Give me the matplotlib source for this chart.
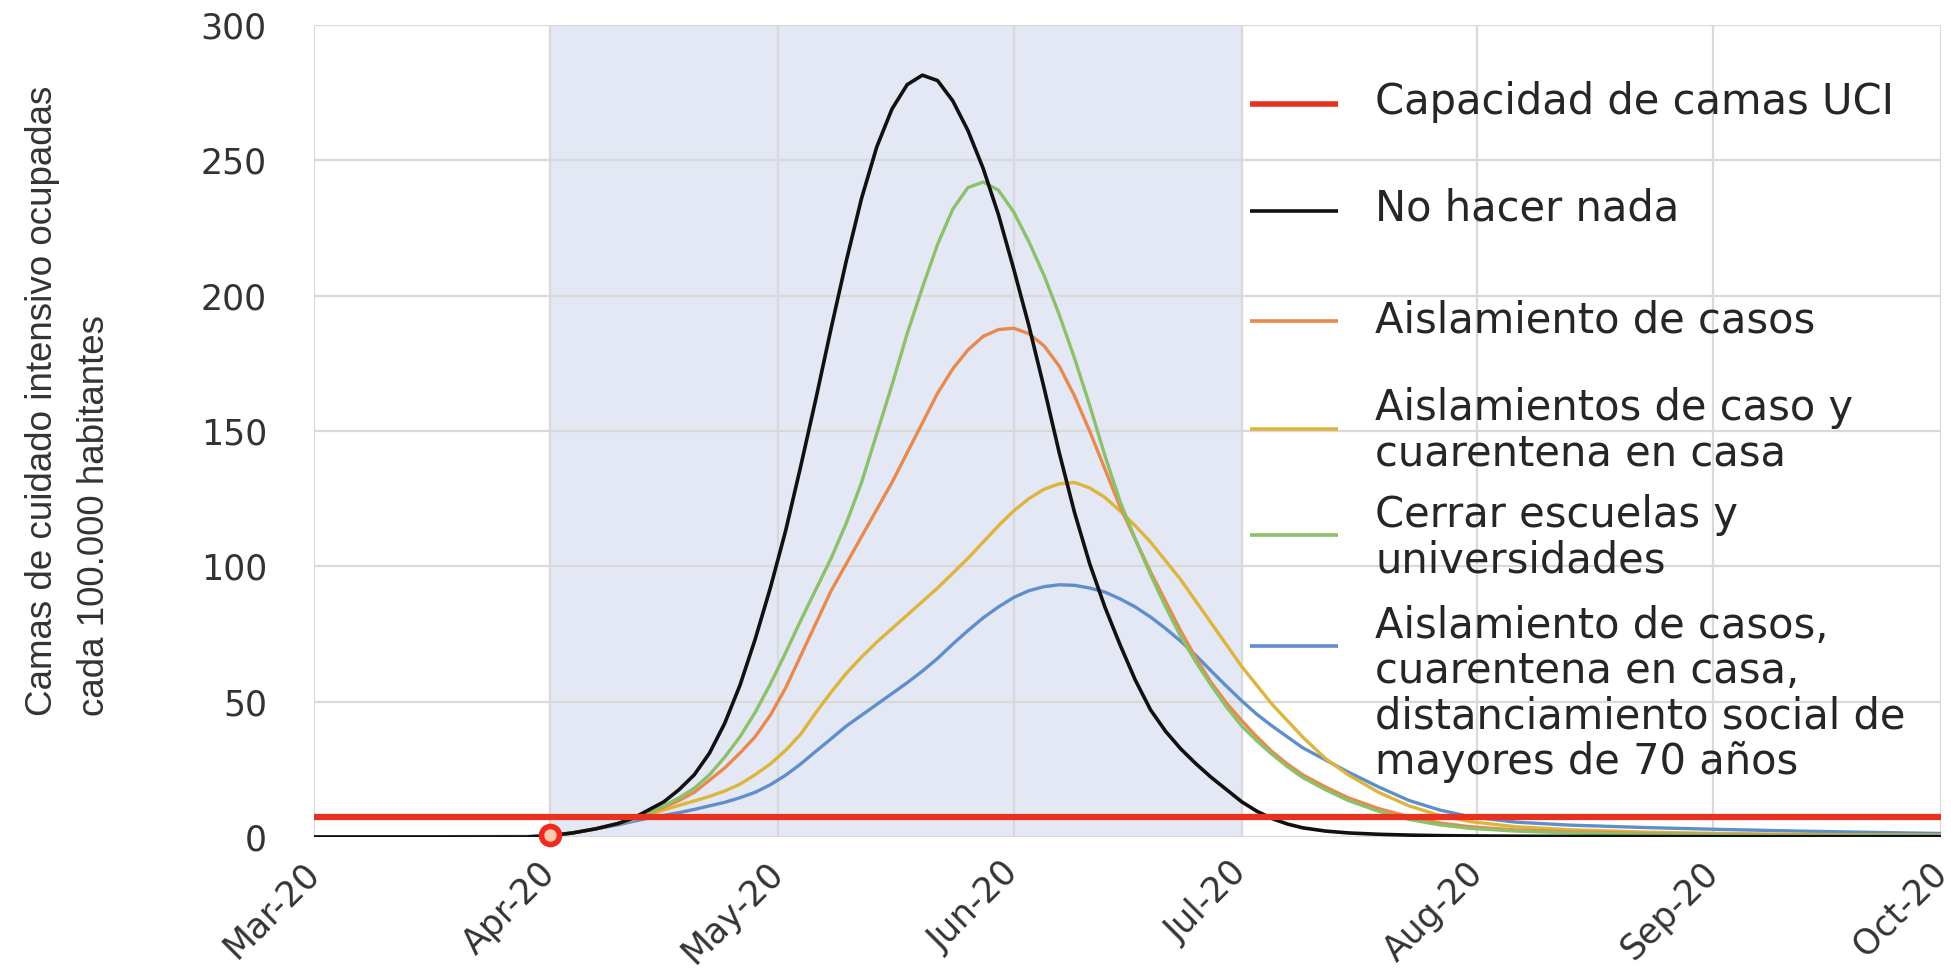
import pandas as pd
import matplotlib
matplotlib.use('Agg')
import matplotlib.pyplot as plt
import matplotlib.dates as mdates

# datos (dias desde el 1 de marzo de 2020)
inicio = pd.Timestamp('2020-03-01')
dias = [0, 28, 31, 34, 37,
        40, 42, 44, 46, 48, 50, 52, 54, 56, 58, 60, 62, 64, 66, 68, 70, 72, 74, 76, 78,
        80, 82, 84, 86, 88, 90, 92, 94, 96, 98, 100, 102, 104, 106, 108, 110, 112, 114,
        116, 118, 120, 122, 124, 126, 128, 130,
        133, 136, 140, 144, 148, 152, 158, 165, 175, 185, 195, 205, 214]

no_hacer_nada = [0, 0, 0.5, 1.5, 3,
                 5, 7, 10, 13, 17.5, 23, 31, 42, 56, 73, 92, 113, 137, 162, 188, 213, 236,
                 255, 269, 278, 281.5, 279.5, 272, 261, 247, 230, 210, 189, 166, 142, 120,
                 101, 85, 71, 58, 47, 39, 32.5, 27, 22, 17.5, 13, 9.5, 6.8, 4.8, 3.4,
                 2.2, 1.5, 1, 0.7, 0.5, 0.4, 0.3, 0.2, 0.15, 0.1, 0.1, 0.1, 0.1]
cerrar_escuelas = [0, 0, 0.5, 1.5, 3,
                   5, 7, 9, 11.5, 14.5, 18, 23, 29.5, 37, 46, 56.5, 68, 80, 91.5, 103, 116,
                   131, 149, 167, 186, 203, 219, 232, 240, 242, 239, 231, 220, 207.5, 193,
                   177, 159.5, 141, 124, 110, 97, 85, 74, 64.5, 56, 48, 41, 35.5, 30.5, 26,
                   22,
                   17.5, 13.5, 9.5, 6.5, 4.5, 3.2, 2.2, 1.5, 1, 0.8, 0.6, 0.5, 0.4]
aislamiento_casos = [0, 0, 0.5, 1.5, 3,
                     5, 7, 9, 11, 13.5, 16.5, 21, 25.5, 31, 37, 45, 55, 67, 79, 91, 101, 111,
                     121, 131, 142, 153, 164, 173, 180, 185, 187.5, 188, 186, 181.5, 174,
                     163, 150, 136, 122, 110, 98, 87, 76, 66, 57, 49.5, 43, 37, 31.5, 27, 23,
                     18.5, 14.5, 10.5, 7.5, 5.2, 3.8, 2.6, 1.9, 1.3, 1, 0.8, 0.6, 0.5]
aislamiento_cuarentena = [0, 0, 0.5, 1.5, 3,
                          5, 6.5, 8.3, 10, 11.7, 13.3, 15, 17, 19.5, 23, 27, 32, 38, 46,
                          53.5, 60.5, 66.5, 72, 77, 82, 87, 92, 97.5, 103, 109, 115, 120.5,
                          125, 128.5, 130.5, 131, 129, 125.5, 120.5, 115, 109, 102, 95, 87,
                          79, 71, 63, 56, 49, 43, 37,
                          29, 23, 16.5, 11.5, 8, 5.7, 3.8, 2.7, 1.8, 1.3, 1, 0.8, 0.7]
medidas_combinadas = [0, 0.2, 0.5, 1.5, 3,
                      4.5, 5.8, 7, 8, 9, 10.2, 11.5, 12.8, 14.5, 16.5, 19.3, 22.8, 27, 31.7,
                      36.3, 41, 45, 49, 53, 57, 61.3, 66, 71.3, 76.3, 81, 85, 88.5, 91, 92.5,
                      93.2, 93, 92, 90.5, 88, 85, 81.3, 77, 72.3, 67, 61.3, 55.7, 50.3, 45.3,
                      41, 37, 33,
                      28.5, 24, 18.5, 13.5, 10, 7.5, 5.5, 4.4, 3.5, 2.8, 2.2, 1.7, 1.3]

capacidad_uci = 7.5
fecha_marcador = pd.Timestamp('2020-04-01')
valor_marcador = 0.8
periodo_inicio = pd.Timestamp('2020-04-01')
periodo_fin = pd.Timestamp('2020-07-01')

etiquetas = ['Capacidad de camas UCI', 'No hacer nada', 'Aislamiento de casos',
             'Aislamientos de caso y\ncuarentena en casa', 'Cerrar escuelas y\nuniversidades',
             'Aislamiento de casos,\ncuarentena en casa,\ndistanciamiento social de\nmayores de 70 años']
colores = ['#E8321F', '#111111', '#E8894F', '#DDB43C', '#8CC06A', '#5F8FCB']

fechas = inicio + pd.to_timedelta(dias, unit='D')

fig = plt.figure(figsize=(19.51, 9.77), dpi=100)
ax = fig.add_axes([0.161, 0.1433, 0.834, 0.831])

ax.axvspan(periodo_inicio, periodo_fin, color='#E4E8F4', zorder=0, lw=0)

ax.plot(fechas, medidas_combinadas, color=colores[5], lw=2.4, zorder=2)
ax.plot(fechas, aislamiento_cuarentena, color=colores[3], lw=2.4, zorder=2)
ax.plot(fechas, aislamiento_casos, color=colores[2], lw=2.4, zorder=2)
ax.plot(fechas, cerrar_escuelas, color=colores[4], lw=2.4, zorder=2)
ax.plot(fechas, no_hacer_nada, color=colores[1], lw=2.6, zorder=3)
ax.axhline(capacidad_uci, color=colores[0], lw=4.5, zorder=4)
ax.plot([fecha_marcador], [valor_marcador], 'o', ms=13, mfc='#FBC9A8', mec='#F02A1E',
        mew=4, zorder=5, clip_on=False)

ax.set_xlim(pd.Timestamp('2020-03-01'), pd.Timestamp('2020-10-01'))
ax.set_ylim(0, 300)
ax.set_yticks(range(0, 301, 50))
ax.xaxis.set_major_locator(mdates.MonthLocator())
ax.xaxis.set_major_formatter(mdates.DateFormatter('%b-%y'))

ax.grid(True, color='#D9D9D9', lw=1.6)
ax.set_axisbelow(True)
for s in ax.spines.values():
    s.set_visible(False)

ax.tick_params(axis='both', length=0, labelsize=25, labelcolor='#333333')
ax.tick_params(axis='y', pad=34)
ax.tick_params(axis='x', pad=22)
for t in ax.get_xticklabels():
    t.set_rotation(45)
    t.set_ha('right')
    t.set_va('center')
    t.set_rotation_mode('anchor')

fig.text(0.035, 0.267, 'Camas de cuidado intensivo ocupadas\ncada 100.000 habitantes',
         rotation=90, ha='center', va='bottom', multialignment='left', fontsize=26.5,
         family='Liberation Sans', color='#333333', linespacing=1.65)

# leyenda dibujada a mano
y_lineas = [0.9027, 0.7709, 0.6355, 0.5025, 0.3719, 0.2352]
y_textos = [0.9052, 0.7746, 0.6367, 0.5000, 0.3682, 0.1761]
for i in range(len(etiquetas)):
    ax.plot([0.5753, 0.6294], [y_lineas[i], y_lineas[i]], transform=ax.transAxes,
            color=colores[i], lw=4 if i == 0 else 2.6, solid_capstyle='butt', zorder=6)
    ax.text(0.6521, y_textos[i], etiquetas[i], transform=ax.transAxes, fontsize=30,
            family='DejaVu Sans', color='#262626', va='center', ha='left',
            linespacing=1.1, zorder=6)

fig.savefig('out.png', dpi=100, facecolor='white')
